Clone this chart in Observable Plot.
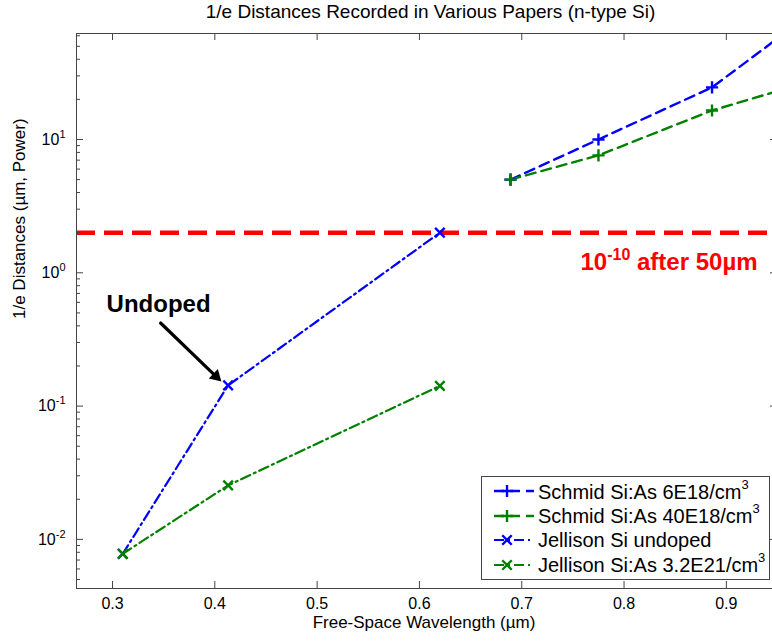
<!DOCTYPE html>
<html>
<head>
<meta charset="utf-8">
<script src="https://cdn.jsdelivr.net/npm/d3@7"></script>
<script src="https://cdn.jsdelivr.net/npm/@observablehq/plot@0.6"></script>
<style>
  html, body { margin: 0; padding: 0; background: #fff; overflow: hidden; }
  #wrap { position: relative; width: 772px; height: 641px; overflow: hidden; font-family: "Liberation Sans", Arial, sans-serif; color: #000; }
  #title { position: absolute; left: 80px; width: 701px; top: 1px; text-align: center; font-size: 19px; line-height: 22px; white-space: nowrap; }
  #chart { position: absolute; left: 0; top: 0; width: 772px; height: 641px; overflow: hidden; }
  #legend { position: absolute; left: 481px; top: 476px; width: 289px; height: 104px; border: 1px solid #444; background: #fff; box-sizing: border-box; padding-top: 2px; }
  .lrow { display: flex; align-items: center; height: 24.5px; font-size: 20px; white-space: nowrap; }
  .lrow svg { flex: none; margin-left: 12px; margin-right: 4px; }
  .lrow sup { font-size: 13px; position: relative; top: -2px; }
</style>
</head>
<body>
<div id="wrap">
  <div id="chart"></div>
  <div id="title"></div>
  <div id="legend"></div>
</div>
<script>
// ---------------- data ----------------
const titleText = "1/e Distances Recorded in Various Papers (n-type Si)";
const xLabel = "Free-Space Wavelength (\u00b5m)";
const yLabel = "1/e Distances (\u00b5m, Power)";

const schmidWavelength = [0.689, 0.775, 0.886, 1.033];
const schmid6E18 = [5.0, 10.0, 24.6, 171];
const schmid40E18 = [5.0, 7.6, 16.5, 35.7];

const jellisonWavelength = [0.31, 0.413, 0.62];
const jellisonUndoped = [0.0078, 0.143, 2.0];
const jellison32E21 = [0.0078, 0.0254, 0.142];

const seriesNames = [
  "Schmid Si:As 6E18/cm^{3}",
  "Schmid Si:As 40E18/cm^{3}",
  "Jellison Si undoped",
  "Jellison Si:As 3.2E21/cm^{3}"
];
const seriesColors = ["#0000ff", "#008000", "#0000ff", "#008000"];

const thresholdValue = 2.0;
const thresholdLabel = "10^{-10} after 50\u00b5m";
const thresholdLabelPos = [0.9305, 1.19];

const undopedLabel = "Undoped";
const undopedLabelPos = [0.345, 0.58];
const arrowFrom = [0.347, 0.42];
const arrowTo = [0.4075, 0.150];

const xTicks = [0.3, 0.4, 0.5, 0.6, 0.7, 0.8, 0.9];
const yTicks = [0.01, 0.1, 1, 10];
const xDomain = [0.2648, 0.950];
const yDomain = [0.004281, 62.4];

// ---------------- build ----------------
const FONT = '"Liberation Sans", Arial, Helvetica, sans-serif';
const W = 772, H = 641, mL = 76, mR = -5, mT = 33, mB = 53;
const plotW = W - mL - mR, plotH = H - mT - mB;

const yMinor = [];
for (const t of [0.001, 0.01, 0.1, 1, 10]) for (let k = 2; k <= 9; k++) {
  const v = +(t * k).toPrecision(3);
  if (v > yDomain[0] && v < yDomain[1]) yMinor.push(v);
}

const rows = (xs, ys) => xs.map((x, i) => ({x, y: ys[i]}));
const S1 = rows(schmidWavelength, schmid6E18);
const S2 = rows(schmidWavelength, schmid40E18);
const J1 = rows(jellisonWavelength, jellisonUndoped);
const J2 = rows(jellisonWavelength, jellison32E21);

const schmidDash = "10,6";
const jellDash = "10,4,2,4";
const styles = [
  {data: S1, color: seriesColors[0], dash: schmidDash, symbol: "plus", r: 4, lw: 2.4},
  {data: S2, color: seriesColors[1], dash: schmidDash, symbol: "plus", r: 4, lw: 2.4},
  {data: J1, color: seriesColors[2], dash: jellDash, symbol: "times", r: 4.4, lw: 2.2},
  {data: J2, color: seriesColors[3], dash: jellDash, symbol: "times", r: 4.4, lw: 2.2}
];

// arrow direction in pixels (for the filled head)
const headAngleDeg = 134; // clockwise from north, pointing down-right
const headBack = 9;
const hdx = -headBack * Math.sin(headAngleDeg * Math.PI / 180);
const hdy = headBack * Math.cos(headAngleDeg * Math.PI / 180);

const marks = [
  Plot.ruleY([thresholdValue], {stroke: "#ff0000", strokeWidth: 4.5, strokeDasharray: "19,9"})
];
for (const s of styles) {
  marks.push(Plot.line(s.data, {x: "x", y: "y", stroke: s.color, strokeWidth: s.lw, strokeDasharray: s.dash, clip: true}));
}
for (const s of styles) {
  marks.push(Plot.dot(s.data, {x: "x", y: "y", symbol: s.symbol, r: s.r, stroke: s.color, strokeWidth: 2.4, clip: true}));
}
marks.push(
  Plot.frame({stroke: "#444", strokeWidth: 1}),
  Plot.tickX(xTicks, {x: d => d, insetTop: plotH - 7, stroke: "#444"}),
  Plot.tickX(xTicks, {x: d => d, insetBottom: plotH - 7, stroke: "#444"}),
  Plot.tickY(yTicks, {y: d => d, insetRight: plotW - 7, stroke: "#444"}),
  Plot.tickY(yMinor, {y: d => d, insetRight: plotW - 4, stroke: "#444"}),
  Plot.tickY(yTicks, {y: d => d, insetLeft: plotW - 7, stroke: "#444"}),
  Plot.tickY(yMinor, {y: d => d, insetLeft: plotW - 4, stroke: "#444"}),
  Plot.axisX({ticks: xTicks, tickFormat: d3.format(".1f"), tickSize: 0, tickPadding: 9, label: null, fontSize: 16}),
  Plot.axisY({ticks: yTicks, tickFormat: d => `10^{${Math.round(Math.log10(d))}}`, tickSize: 0, tickPadding: 11, label: null, fontSize: 16}),
  Plot.text([xLabel], {text: d => d, frameAnchor: "bottom", dx: -3, dy: 39, fontSize: 17}),
  Plot.text([yLabel], {text: d => d, frameAnchor: "left", dx: -57, dy: 8, rotate: -90, fontSize: 17}),
  Plot.text([thresholdLabel], {text: d => d, x: () => thresholdLabelPos[0], y: () => thresholdLabelPos[1], textAnchor: "end", fill: "#ff0000", fontWeight: "bold", fontSize: 24}),
  Plot.text([undopedLabel], {text: d => d, x: () => undopedLabelPos[0], y: () => undopedLabelPos[1], fill: "#000", fontWeight: "bold", fontSize: 24}),
  Plot.arrow([0], {x1: () => arrowFrom[0], y1: () => arrowFrom[1], x2: () => arrowTo[0], y2: () => arrowTo[1], stroke: "#000", strokeWidth: 3.2, headLength: 0, insetEnd: 12}),
  Plot.dot([0], {x: () => arrowTo[0], y: () => arrowTo[1], symbol: "triangle2", r: 6.2, fill: "#000", stroke: "none", rotate: headAngleDeg, dx: hdx, dy: hdy})
);

const svg = Plot.plot({
  width: W, height: H,
  marginLeft: mL, marginRight: mR, marginTop: mT, marginBottom: mB,
  style: {fontFamily: FONT, fontSize: "16px", color: "#000", background: "transparent", overflow: "hidden"},
  x: {domain: xDomain},
  y: {type: "log", domain: yDomain},
  marks
});
document.getElementById("chart").appendChild(svg);

// superscripts "^{...}" -> tspans
const SVGNS = "http://www.w3.org/2000/svg";
svg.querySelectorAll("text").forEach(t => {
  const s = t.textContent;
  if (!s.includes("^{")) return;
  const fs = parseFloat(getComputedStyle(t).fontSize) || 16;
  const shift = Math.round(fs * 0.42);
  t.textContent = "";
  const re = /\^\{([^}]*)\}/g;
  let last = 0, m, raised = false;
  const add = (str, sup) => {
    const ts = document.createElementNS(SVGNS, "tspan");
    ts.textContent = str;
    if (sup) { ts.setAttribute("dy", -shift); ts.setAttribute("font-size", Math.round(fs * 0.68)); raised = true; }
    else if (raised) { ts.setAttribute("dy", shift); raised = false; }
    t.appendChild(ts);
  };
  while ((m = re.exec(s))) {
    if (m.index > last) add(s.slice(last, m.index), false);
    add(m[1], true);
    last = re.lastIndex;
  }
  if (last < s.length) add(s.slice(last), false);
});

// title
document.getElementById("title").textContent = titleText;

// legend
const legend = document.getElementById("legend");
styles.forEach((s, i) => {
  const row = document.createElement("div");
  row.className = "lrow";
  const sw = d3.create("svg").attr("width", 40).attr("height", 20);
  sw.append("line").attr("x1", 0).attr("x2", 40).attr("y1", 10).attr("y2", 10)
    .attr("stroke", s.color).attr("stroke-width", s.lw).attr("stroke-dasharray", s.dash);
  const sym = s.symbol === "plus" ? d3.symbolPlus : d3.symbolTimes;
  sw.append("path").attr("transform", "translate(13,10)")
    .attr("d", d3.symbol(sym, Math.PI * s.r * s.r)())
    .attr("fill", "none").attr("stroke", s.color).attr("stroke-width", 2.4);
  row.appendChild(sw.node());
  const span = document.createElement("span");
  const name = seriesNames[i];
  const mm = name.match(/^(.*)\^\{([^}]*)\}(.*)$/);
  if (mm) {
    span.appendChild(document.createTextNode(mm[1]));
    const sup = document.createElement("sup");
    sup.textContent = mm[2];
    span.appendChild(sup);
    span.appendChild(document.createTextNode(mm[3]));
  } else span.textContent = name;
  row.appendChild(span);
  legend.appendChild(row);
});
</script>
</body>
</html>
